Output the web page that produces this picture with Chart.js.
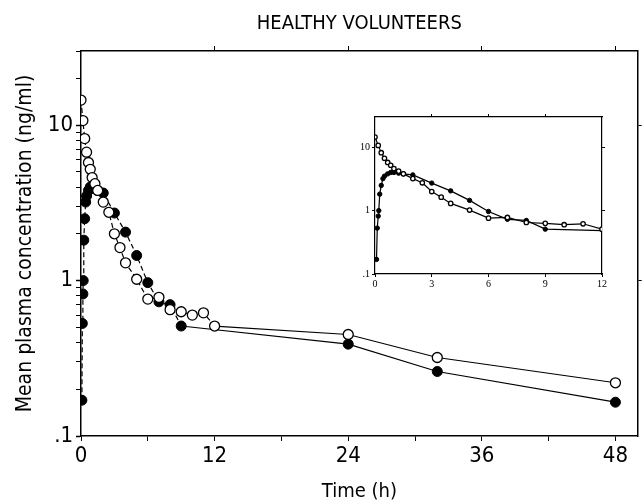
<!DOCTYPE html>
<html>
<head>
<meta charset="utf-8">
<script src="https://cdn.jsdelivr.net/npm/chart.js@4.4.1/dist/chart.umd.min.js"></script>
<style>
  html, body { margin: 0; padding: 0; background: #fff; }
  #wrap { position: relative; width: 644px; height: 504px; overflow: hidden; }
  #main { position: absolute; left: 0; top: 0; }
  #inset { position: absolute; left: 330px; top: 100px; }
</style>
</head>
<body>
<div id="wrap">
  <canvas id="main" width="644" height="504"></canvas>
  <canvas id="inset" width="290" height="200"></canvas>
</div>
<script>
// open circles
const openTimes = [0, 0.17, 0.33, 0.5, 0.67, 0.83, 1, 1.25, 1.5, 2, 2.5, 3, 3.5, 4, 5, 6, 7, 8, 9, 10, 11, 12, 24, 32, 48];
const openConc = [14.5, 10.7, 8.2, 6.7, 5.75, 5.2, 4.6, 4.2, 3.8, 3.2, 2.75, 2.0, 1.63, 1.3, 1.02, 0.76, 0.78, 0.65, 0.63, 0.6, 0.62, 0.51, 0.45, 0.32, 0.22];
// filled circles
const filledTimes = [0.08, 0.12, 0.17, 0.2, 0.25, 0.33, 0.42, 0.5, 0.67, 0.83, 1, 1.25, 1.5, 2, 3, 4, 5, 6, 7, 8, 9, 24, 32, 48];
const filledConc = [0.17, 0.53, 0.82, 1.0, 1.82, 2.5, 3.2, 3.5, 3.8, 4.0, 4.0, 3.9, 3.8, 3.66, 2.72, 2.05, 1.45, 0.97, 0.73, 0.7, 0.51, 0.39, 0.26, 0.165];

const xMajor = [0, 12, 24, 36, 48];
const xMinor = [6, 18, 30, 42];
const insetXTicks = [0, 3, 6, 9, 12];
const yDecades = [0.1, 1, 10];
const yDecadeLabels = ['.1', '1', '10'];
const yMinorMult = [2, 3, 4, 5, 6, 7, 8, 9];

const Y_MIN = 0.1, Y_MAX = 30;
const FONT = "'DejaVu Sans Condensed', 'Liberation Sans Narrow', sans-serif";
const SERIF = "'Liberation Serif', 'DejaVu Serif', serif";

const pts = (xs, ys) => xs.map((x, i) => ({ x, y: ys[i] }));

function logTicks() {
  const out = [];
  yDecades.forEach((d) => {
    out.push({ value: d, major: true });
    yMinorMult.forEach((m) => { if (d * m <= Y_MAX) out.push({ value: d * m }); });
  });
  return out;
}
const yLabel = (v) => {
  const i = yDecades.indexOf(v);
  return i >= 0 ? yDecadeLabels[i] : '';
};
const fixWidth = (w) => (scale) => { scale.width = w; };
const fixHeight = (h) => (scale) => { scale.height = h; };

function series(radius, dashed) {
  const seg = dashed ? { borderDash: (ctx) => (ctx.p1.parsed.x <= 12 ? [5, 3] : undefined) } : undefined;
  return [
    {
      label: 'open',
      data: pts(openTimes, openConc),
      borderColor: '#000', borderWidth: 1.2,
      pointBackgroundColor: '#fff', pointBorderColor: '#000', pointBorderWidth: 1.3,
      pointRadius: radius, segment: seg
    },
    {
      label: 'filled',
      data: pts(filledTimes, filledConc),
      borderColor: '#000', borderWidth: 1.2,
      pointBackgroundColor: '#000', pointBorderColor: '#000', pointBorderWidth: 1,
      pointRadius: radius, segment: seg
    }
  ];
}

const axisBorder = { display: true, color: '#000', width: 1.5 };

new Chart(document.getElementById('main'), {
  type: 'line',
  data: { datasets: series(5, true) },
  options: {
    responsive: false, animation: false,
    layout: { padding: 0 },
    plugins: {
      legend: { display: false }, tooltip: { enabled: false },
      title: {
        display: true, text: 'HEALTHY VOLUNTEERS', color: '#000', fullSize: false,
        font: { family: FONT, size: 20, weight: 'normal' },
        padding: { top: 12, bottom: 15 }
      }
    },
    scales: {
      x: {
        type: 'linear', position: 'bottom', min: 0, max: 50,
        afterFit: fixHeight(68),
        afterBuildTicks: (s) => { s.ticks = xMajor.concat(xMinor).sort((a, b) => a - b).map((v) => ({ value: v })); },
        ticks: {
          color: '#000', padding: 2, maxRotation: 0, autoSkip: false,
          font: { family: FONT, size: 22 },
          callback: (v) => (xMajor.includes(v) ? String(v) : '')
        },
        grid: { drawOnChartArea: false, drawTicks: true, tickLength: 5, tickColor: '#000' },
        border: axisBorder,
        title: { display: true, text: 'Time (h)', color: '#000', font: { family: FONT, size: 20 }, padding: { top: 4, bottom: 0 } }
      },
      x2: {
        type: 'linear', position: 'top', min: 0, max: 50,
        afterFit: fixHeight(0),
        afterBuildTicks: (s) => { s.ticks = xMajor.slice(1).map((v) => ({ value: v })); },
        ticks: { display: false },
        grid: { drawOnChartArea: false, drawTicks: true, tickLength: 5, tickColor: '#000' },
        border: axisBorder
      },
      y: {
        type: 'logarithmic', position: 'left', min: Y_MIN, max: Y_MAX,
        afterFit: fixWidth(81),
        afterBuildTicks: (s) => { s.ticks = logTicks(); },
        ticks: {
          color: '#000', padding: 3, autoSkip: false,
          font: { family: FONT, size: 22 },
          callback: yLabel
        },
        grid: { drawOnChartArea: false, drawTicks: true, tickLength: 5, tickColor: '#000',
          tickWidth: (c) => (c.tick && c.tick.major ? 1.5 : 1) },
        border: axisBorder,
        title: { display: true, text: 'Mean plasma concentration (ng/ml)', color: '#000',
          font: { family: FONT, size: 21 }, padding: { top: 13, bottom: 0 } }
      },
      y2: {
        type: 'logarithmic', position: 'right', min: Y_MIN, max: Y_MAX,
        afterFit: fixWidth(6),
        afterBuildTicks: (s) => { s.ticks = yDecades.slice(1).map((v) => ({ value: v })); },
        ticks: { display: false },
        grid: { drawOnChartArea: false, drawTicks: true, tickLength: 4, tickColor: '#000' },
        border: axisBorder
      }
    }
  }
});

new Chart(document.getElementById('inset'), {
  type: 'line',
  data: { datasets: series(2.2, false) },
  options: {
    responsive: false, animation: false,
    layout: { padding: 0 },
    plugins: { legend: { display: false }, tooltip: { enabled: false }, title: { display: false } },
    scales: {
      x: {
        type: 'linear', position: 'bottom', min: 0, max: 12,
        afterFit: fixHeight(26),
        afterBuildTicks: (s) => { s.ticks = insetXTicks.map((v) => ({ value: v })); },
        ticks: { color: '#000', padding: 1, maxRotation: 0, autoSkip: false, font: { family: SERIF, size: 10 } },
        grid: { drawOnChartArea: false, drawTicks: true, tickLength: 3, tickColor: '#000' },
        border: { display: true, color: '#000', width: 1.2 }
      },
      x2: {
        type: 'linear', position: 'top', min: 0, max: 12,
        afterFit: fixHeight(17),
        afterBuildTicks: (s) => { s.ticks = insetXTicks.slice(1, 4).map((v) => ({ value: v })); },
        ticks: { display: false },
        grid: { drawOnChartArea: false, drawTicks: true, tickLength: 3, tickColor: '#000' },
        border: { display: true, color: '#000', width: 1.2 }
      },
      y: {
        type: 'logarithmic', position: 'left', min: Y_MIN, max: Y_MAX,
        afterFit: fixWidth(45),
        afterBuildTicks: (s) => { s.ticks = yDecades.map((v) => ({ value: v })); },
        ticks: { color: '#000', padding: 2, autoSkip: false, font: { family: SERIF, size: 10 }, callback: yLabel },
        grid: { drawOnChartArea: false, drawTicks: true, tickLength: 3, tickColor: '#000' },
        border: { display: true, color: '#000', width: 1.2 }
      },
      y2: {
        type: 'logarithmic', position: 'right', min: Y_MIN, max: Y_MAX,
        afterFit: fixWidth(18),
        afterBuildTicks: (s) => { s.ticks = yDecades.slice(1).map((v) => ({ value: v })); },
        ticks: { display: false },
        grid: { drawOnChartArea: false, drawTicks: true, tickLength: 3, tickColor: '#000' },
        border: { display: true, color: '#000', width: 1.2 }
      }
    }
  }
});
</script>
</body>
</html>
